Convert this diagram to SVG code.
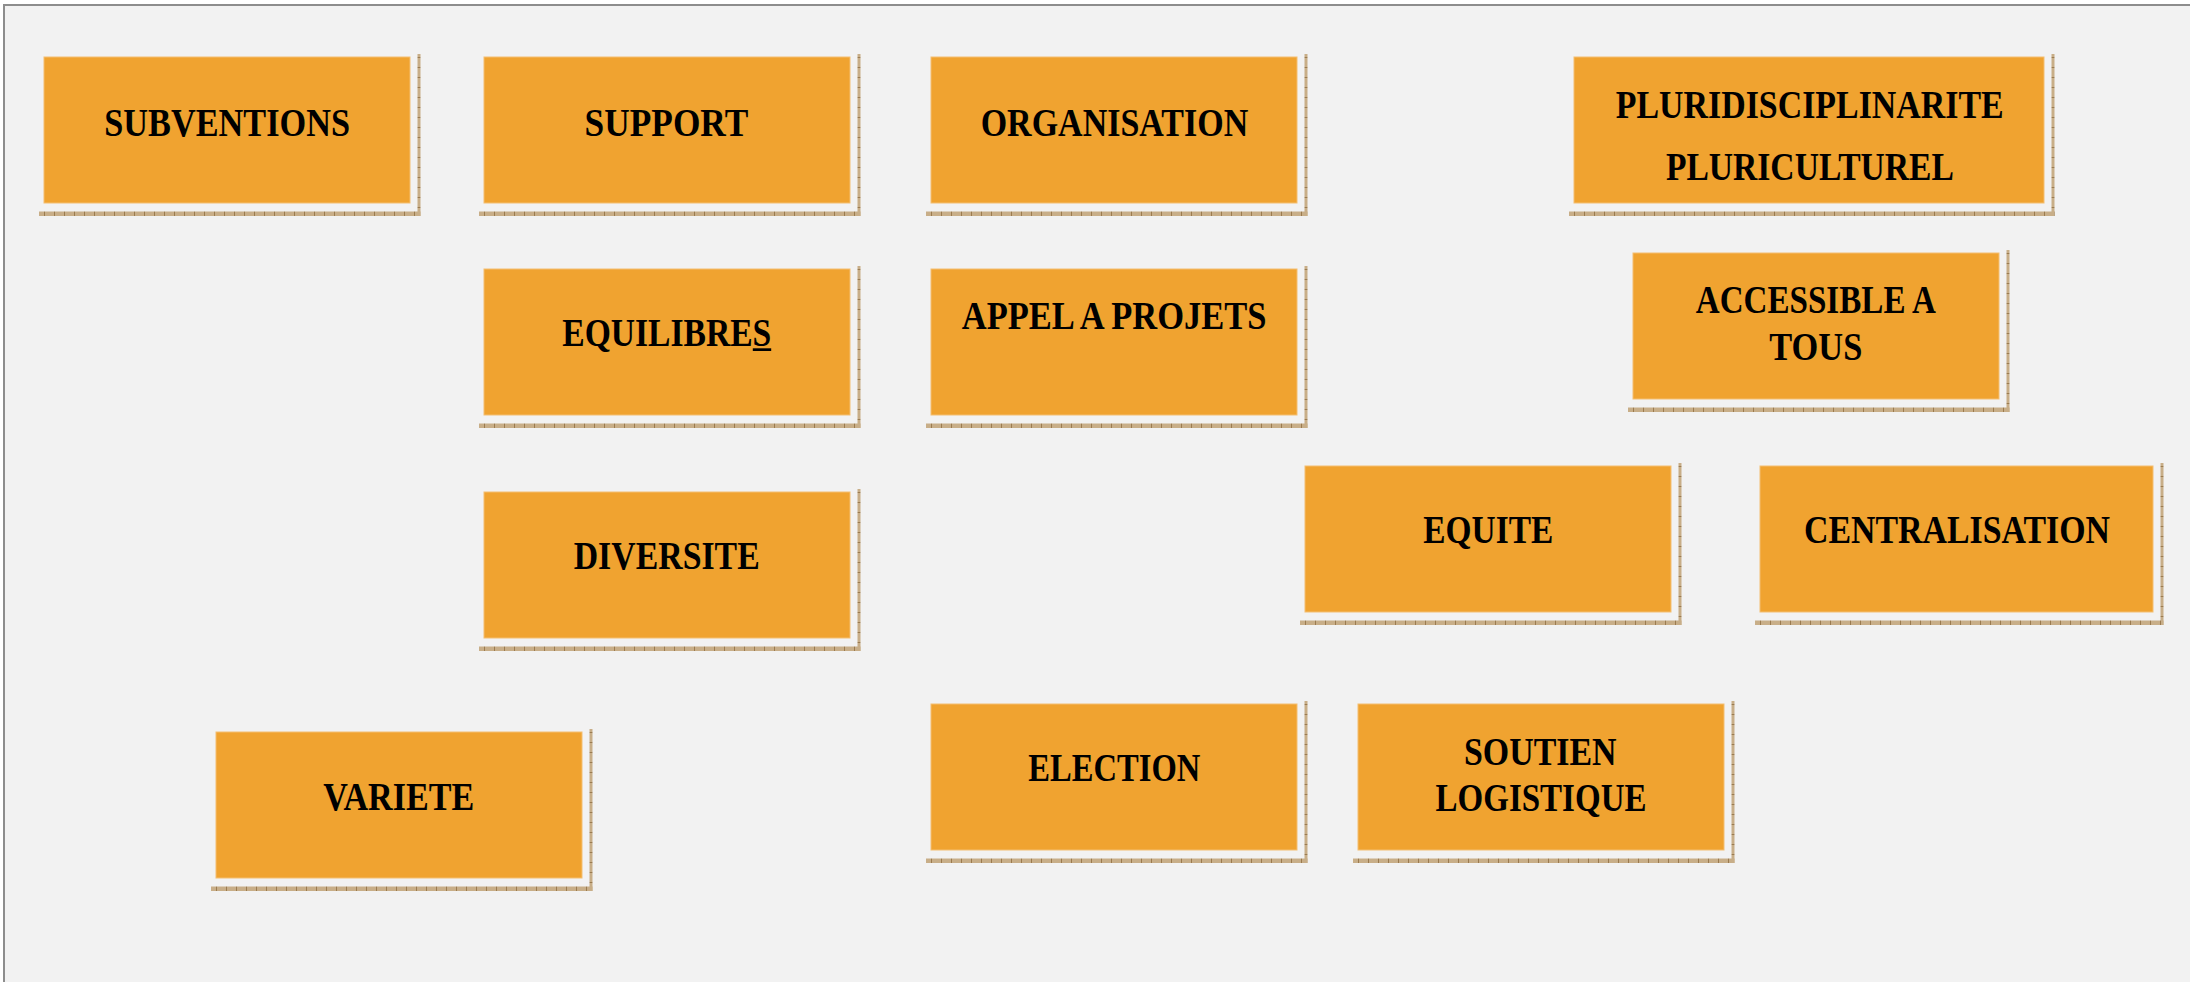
<svg xmlns="http://www.w3.org/2000/svg" width="2190" height="982" viewBox="0 0 2190 982">
<defs>
<style>
.box{fill:#F0A330;stroke:#F4BE70;stroke-width:1}
.lbl{font-family:"Liberation Serif","Times New Roman",serif;font-weight:bold;font-size:40px;fill:#000}
.shb{fill:url(#hb)}
.shr{fill:url(#vb)}
</style>
<pattern id="hb" width="10" height="5" patternUnits="userSpaceOnUse">
<rect width="10" height="5" fill="#C8AE88"/>
<rect x="0" width="1" height="5" fill="#9B7B4F"/>
</pattern>
<pattern id="vb" width="3" height="10" patternUnits="userSpaceOnUse">
<rect width="3" height="10" fill="#C8AE88"/>
<rect y="0" width="3" height="1" fill="#9B7B4F"/>
</pattern>
</defs>
<rect width="2190" height="982" fill="#FFFFFF"/>
<rect x="3" y="4" width="2187" height="978" fill="#F2F2F2"/>
<rect x="3" y="4" width="2187" height="2" fill="#8D8D8D"/>
<rect x="3" y="4" width="2" height="978" fill="#8D8D8D"/>
<g id="connectors"></g>

<g id="n-subventions" transform="translate(44,57)">
<rect class="shr" x="373.5" y="-3" width="3" height="162"/>
<rect class="shb" x="-5" y="154.5" width="381.5" height="4.5"/>
<rect class="box" x="0" y="0" width="366" height="146"/>
<text class="lbl" x="60.3" y="79" textLength="245.7" lengthAdjust="spacingAndGlyphs">SUBVENTIONS</text>
</g>

<g id="n-support" transform="translate(484,57)">
<rect class="shr" x="373.5" y="-3" width="3" height="162"/>
<rect class="shb" x="-5" y="154.5" width="381.5" height="4.5"/>
<rect class="box" x="0" y="0" width="366" height="146"/>
<text class="lbl" x="100.6" y="78.5" textLength="163.6" lengthAdjust="spacingAndGlyphs">SUPPORT</text>
</g>

<g id="n-organisation" transform="translate(931,57)">
<rect class="shr" x="373.5" y="-3" width="3" height="162"/>
<rect class="shb" x="-5" y="154.5" width="381.5" height="4.5"/>
<rect class="box" x="0" y="0" width="366" height="146"/>
<text class="lbl" x="49.7" y="78.5" textLength="267.5" lengthAdjust="spacingAndGlyphs">ORGANISATION</text>
</g>

<g id="n-pluridisciplinarite" transform="translate(1574,57)">
<rect class="shr" x="477.5" y="-3" width="3" height="162"/>
<rect class="shb" x="-5" y="154.5" width="485.5" height="4.5"/>
<rect class="box" x="0" y="0" width="470" height="146"/>
<text class="lbl" x="41.7" y="61" textLength="388" lengthAdjust="spacingAndGlyphs">PLURIDISCIPLINARITE</text>
<text class="lbl" x="91.9" y="123" textLength="288" lengthAdjust="spacingAndGlyphs">PLURICULTUREL</text>
</g>

<g id="n-equilibres" transform="translate(484,269)">
<rect class="shr" x="373.5" y="-3" width="3" height="162"/>
<rect class="shb" x="-5" y="154.5" width="381.5" height="4.5"/>
<rect class="box" x="0" y="0" width="366" height="146"/>
<text class="lbl" x="78.3" y="76.7" textLength="209" lengthAdjust="spacingAndGlyphs">EQUILIBRES</text>
<rect x="268.8" y="79.3" width="18.4" height="2.7" fill="#000"/>
</g>

<g id="n-appel" transform="translate(931,269)">
<rect class="shr" x="373.5" y="-3" width="3" height="162"/>
<rect class="shb" x="-5" y="154.5" width="381.5" height="4.5"/>
<rect class="box" x="0" y="0" width="366" height="146"/>
<text class="lbl" x="30.8" y="60" textLength="304.7" lengthAdjust="spacingAndGlyphs">APPEL A PROJETS</text>
</g>

<g id="n-accessible" transform="translate(1633,253)">
<rect class="shr" x="373.5" y="-3" width="3" height="162"/>
<rect class="shb" x="-5" y="154.5" width="381.5" height="4.5"/>
<rect class="box" x="0" y="0" width="366" height="146"/>
<text class="lbl" x="62.8" y="60.3" textLength="240" lengthAdjust="spacingAndGlyphs">ACCESSIBLE A</text>
<text class="lbl" x="136.3" y="107" textLength="93" lengthAdjust="spacingAndGlyphs">TOUS</text>
</g>

<g id="n-diversite" transform="translate(484,492)">
<rect class="shr" x="373.5" y="-3" width="3" height="162"/>
<rect class="shb" x="-5" y="154.5" width="381.5" height="4.5"/>
<rect class="box" x="0" y="0" width="366" height="146"/>
<text class="lbl" x="89.7" y="77" textLength="186" lengthAdjust="spacingAndGlyphs">DIVERSITE</text>
</g>

<g id="n-equite" transform="translate(1305,466)">
<rect class="shr" x="373.5" y="-3" width="3" height="162"/>
<rect class="shb" x="-5" y="154.5" width="381.5" height="4.5"/>
<rect class="box" x="0" y="0" width="366" height="146"/>
<text class="lbl" x="118.3" y="77" textLength="130" lengthAdjust="spacingAndGlyphs">EQUITE</text>
</g>

<g id="n-centralisation" transform="translate(1760,466)">
<rect class="shr" x="400.5" y="-3" width="3" height="162"/>
<rect class="shb" x="-5" y="154.5" width="408.5" height="4.5"/>
<rect class="box" x="0" y="0" width="393" height="146"/>
<text class="lbl" x="44" y="77" textLength="306" lengthAdjust="spacingAndGlyphs">CENTRALISATION</text>
</g>

<g id="n-variete" transform="translate(216,732)">
<rect class="shr" x="373.5" y="-3" width="3" height="162"/>
<rect class="shb" x="-5" y="154.5" width="381.5" height="4.5"/>
<rect class="box" x="0" y="0" width="366" height="146"/>
<text class="lbl" x="107.2" y="78" textLength="151" lengthAdjust="spacingAndGlyphs">VARIETE</text>
</g>

<g id="n-election" transform="translate(931,704)">
<rect class="shr" x="373.5" y="-3" width="3" height="162"/>
<rect class="shb" x="-5" y="154.5" width="381.5" height="4.5"/>
<rect class="box" x="0" y="0" width="366" height="146"/>
<text class="lbl" x="97.3" y="77" textLength="172" lengthAdjust="spacingAndGlyphs">ELECTION</text>
</g>

<g id="n-soutien" transform="translate(1358,704)">
<rect class="shr" x="373.5" y="-3" width="3" height="162"/>
<rect class="shb" x="-5" y="154.5" width="381.5" height="4.5"/>
<rect class="box" x="0" y="0" width="366" height="146"/>
<text class="lbl" x="106" y="60.7" textLength="152.6" lengthAdjust="spacingAndGlyphs">SOUTIEN</text>
<text class="lbl" x="77.5" y="107.3" textLength="211" lengthAdjust="spacingAndGlyphs">LOGISTIQUE</text>
</g>
</svg>
